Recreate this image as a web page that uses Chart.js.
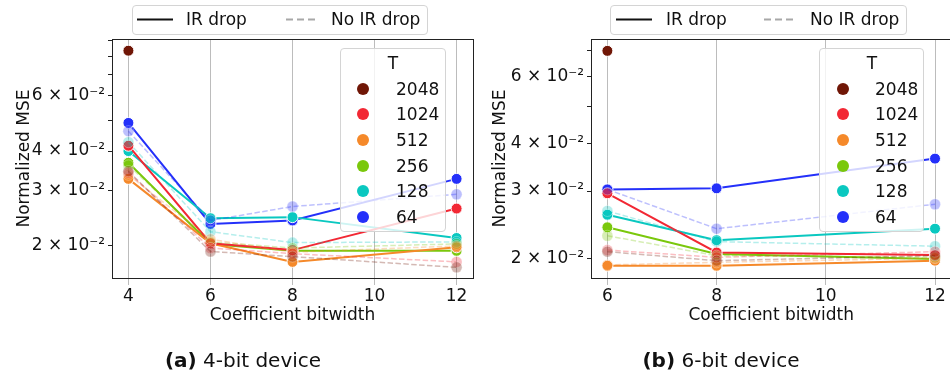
<!DOCTYPE html>
<html><head><meta charset="utf-8">
<script src="https://cdn.jsdelivr.net/npm/chart.js@4/dist/chart.umd.min.js"></script>
<style>
html,body{margin:0;padding:0;width:950px;height:381px;overflow:hidden;background:#fff;font-family:"DejaVu Sans",sans-serif;color:#111;}
.wrap{position:absolute;top:0;height:381px;}
canvas{display:block}
.box{position:absolute;background:rgba(255,255,255,0.8);border:1px solid #d4d4d4;border-radius:4px;box-sizing:border-box;z-index:5;}
.t{position:absolute;font-size:17px;line-height:20px;white-space:nowrap;z-index:6;}
.dot{position:absolute;width:12px;height:12px;border-radius:50%;z-index:6;}
.cap{position:absolute;font-size:20px;line-height:24px;white-space:nowrap;transform:translateX(-50%);}
</style></head>
<body>
<div class="wrap" style="left:0;width:475px"><canvas id="c4" width="475" height="381"></canvas></div>
<div class="wrap" style="left:475px;width:480px"><canvas id="c6" width="480" height="381"></canvas></div>
<div id="overlay"></div>
<script>
// ---- data ----
const xBits4 = [4, 6, 8, 12];
const xBits6 = [6, 8, 12];
const tLabels = ['2048', '1024', '512', '256', '128', '64'];

// 4-bit device, IR drop
const ir4_2048 = [0.0837, null, null, null];
const ir4_1024 = [0.0416, 0.0203, 0.0193, 0.0262];
const ir4_512  = [0.0326, 0.0203, 0.0177, 0.0197];
const ir4_256  = [0.0367, 0.0202, 0.0192, 0.0192];
const ir4_128  = [0.0400, 0.0244, 0.0246, 0.0211];
const ir4_64   = [0.0492, 0.0234, 0.0240, 0.0326];
// 4-bit device, no IR drop
const no4_2048 = [0.0345, 0.0191, 0.0184, 0.0170];
const no4_1024 = [0.0341, 0.0196, 0.0188, 0.0177];
const no4_512  = [0.0336, 0.0209, 0.0190, 0.0199];
const no4_256  = [0.0360, 0.0205, 0.0196, 0.0202];
const no4_128  = [0.0427, 0.0221, 0.0204, 0.0205];
const no4_64   = [0.0463, 0.0240, 0.0266, 0.0291];
// 6-bit device, IR drop
const ir6_2048 = [0.0700, null, null];
const ir6_1024 = [0.0296, 0.0207, 0.0204];
const ir6_512  = [0.0191, 0.0191, 0.0197];
const ir6_256  = [0.0241, 0.0205, 0.0199];
const ir6_128  = [0.0260, 0.0223, 0.0239];
const ir6_64   = [0.0303, 0.0305, 0.0365];
// 6-bit device, no IR drop
const no6_2048 = [0.0208, 0.0197, 0.0203];
const no6_1024 = [0.0210, 0.0201, 0.0208];
const no6_512  = [0.0192, 0.0195, 0.0200];
const no6_256  = [0.0229, 0.0203, 0.0201];
const no6_128  = [0.0266, 0.0221, 0.0215];
const no6_64   = [0.0303, 0.0239, 0.0277];

const xTicks4 = [4, 6, 8, 10, 12];
const xTicks6 = [6, 8, 10, 12];
const yTicks4 = [0.02, 0.03, 0.04, 0.05, 0.06, 0.07, 0.08, 0.09];
const yTicks6 = [0.02, 0.03, 0.04, 0.05, 0.06, 0.07];
const yLabelled = {2: '2 × 10⁻²', 3: '3 × 10⁻²', 4: '4 × 10⁻²', 6: '6 × 10⁻²'};

// ---- styles ----
const tColors = [[112,22,6],[242,40,52],[245,137,42],[122,200,12],[10,200,192],[36,48,250]];
const FONT = 'DejaVu Sans';
const rgba = (c, a) => `rgba(${c[0]},${c[1]},${c[2]},${a})`;

const framePlugin = {
  id: 'frame',
  afterDatasetsDraw(chart) {
    const {ctx, chartArea: a} = chart;
    ctx.save();
    ctx.strokeStyle = '#222';
    ctx.lineWidth = 1;
    ctx.strokeRect(Math.round(a.left) + 0.5, Math.round(a.top) + 0.5,
                   Math.round(a.right - a.left), Math.round(a.bottom - a.top));
    ctx.restore();
  }
};

function buildDatasets(xs, irList, noList) {
  const ds = [];
  noList.forEach((vals, i) => {
    ds.push({
      data: xs.map((x, j) => ({x: x, y: vals[j]})),
      borderColor: rgba(tColors[i], 0.3), backgroundColor: rgba(tColors[i], 0.3),
      pointBorderColor: 'rgba(255,255,255,0.3)', pointBorderWidth: 1,
      borderDash: [5.5, 2.4], borderWidth: 1.5, pointRadius: 5.5, tension: 0, spanGaps: false
    });
  });
  irList.forEach((vals, i) => {
    ds.push({
      data: xs.map((x, j) => ({x: x, y: vals[j]})),
      borderColor: rgba(tColors[i], 1), backgroundColor: rgba(tColors[i], 1),
      pointBorderColor: '#fff', pointBorderWidth: 1,
      borderWidth: 2, pointRadius: 5.5, tension: 0, spanGaps: false
    });
  });
  return ds;
}

function makeChart(id, xs, irList, noList, xmin, xmax, xTicks, ymin, ymax, yTicks, padRight, yWidth, yTitlePad) {
  return new Chart(document.getElementById(id), {
    type: 'line',
    data: {datasets: buildDatasets(xs, irList, noList)},
    plugins: [framePlugin],
    options: {
      responsive: false, animation: false, events: [],
      layout: {autoPadding: false, padding: {left: 0, top: 39, right: padRight, bottom: 0}},
      plugins: {legend: {display: false}, tooltip: {enabled: false}},
      scales: {
        x: {
          type: 'linear', min: xmin, max: xmax,
          afterBuildTicks: s => { s.ticks = xTicks.map(v => ({value: v})); },
          afterFit: s => { s.height = 103; s.paddingLeft = 0; s.paddingRight = 0; },
          grid: {color: '#bcbcbc', lineWidth: 1, drawTicks: true, tickLength: 7},
          border: {display: false},
          ticks: {color: '#111', font: {family: FONT, size: 17}, padding: 1, maxRotation: 0, autoSkip: false,
                  callback: v => String(v)},
          title: {display: true, text: 'Coefficient bitwidth', color: '#111', font: {family: FONT, size: 17},
                  padding: {top: 0, bottom: 55}}
        },
        y: {
          type: 'logarithmic', min: ymin, max: ymax,
          afterBuildTicks: s => { s.ticks = yTicks.map(v => ({value: v})); },
          afterFit: s => { s.width = yWidth; s.paddingTop = 0; s.paddingBottom = 0; },
          grid: {drawOnChartArea: false, drawTicks: true, tickLength: 4, color: '#222', lineWidth: 1},
          border: {display: false},
          ticks: {color: '#111', font: {family: FONT, size: 17}, padding: 3, autoSkip: false,
                  callback: v => yLabelled[Math.round(v * 100)] || ''},
          title: {display: true, text: 'Normalized MSE', color: '#111', font: {family: FONT, size: 17},
                  padding: {top: yTitlePad, bottom: 0}}
        }
      }
    }
  });
}

makeChart('c4', xBits4,
  [ir4_2048, ir4_1024, ir4_512, ir4_256, ir4_128, ir4_64],
  [no4_2048, no4_1024, no4_512, no4_256, no4_128, no4_64],
  3.6, 12.4, xTicks4, 0.01572, 0.09122, yTicks4, 2, 112, 14);
makeChart('c6', xBits6,
  [ir6_2048, ir6_1024, ir6_512, ir6_256, ir6_128, ir6_64],
  [no6_2048, no6_1024, no6_512, no6_256, no6_128, no6_64],
  5.7, 12.3, xTicks6, 0.01774, 0.0752, yTicks6, 3.6, 116, 15);

// ---- legends & captions (HTML text) ----
const ov = document.getElementById('overlay');
function add(html) { ov.insertAdjacentHTML('beforeend', html); }

function topLegend(bx, bw, solidX, solidTx, dashX, dashTx) {
  add(`<div class="box" style="left:${bx}px;top:5px;width:${bw}px;height:30px"></div>`);
  add(`<svg style="position:absolute;left:0;top:0;z-index:6" width="950" height="40">
        <line x1="${solidX}" y1="19.5" x2="${solidX + 36}" y2="19.5" stroke="#111" stroke-width="2"/>
        <line x1="${dashX}" y1="19.5" x2="${dashX + 29}" y2="19.5" stroke="#a8a8a8" stroke-width="2" stroke-dasharray="7,4"/>
      </svg>`);
  add(`<div class="t" style="left:${solidTx}px;top:9px">IR drop</div>`);
  add(`<div class="t" style="left:${dashTx}px;top:9px">No IR drop</div>`);
}
topLegend(132, 296, 137, 186, 286, 331);
topLegend(610, 297, 616, 666, 764, 810);

function tLegend(bx, bw, dotX, txtX, titleX) {
  add(`<div class="box" style="left:${bx}px;top:48px;width:${bw}px;height:184px"></div>`);
  add(`<div class="t" style="left:${titleX - 20}px;width:40px;text-align:center;top:53px">T</div>`);
  tLabels.forEach((lab, i) => {
    const y = 88.7 + i * 25.6;
    add(`<div class="dot" style="left:${dotX - 6}px;top:${y - 6}px;background:${rgba(tColors[i], 1)}"></div>`);
    add(`<div class="t" style="left:${txtX}px;top:${y - 10}px">${lab}</div>`);
  });
}
tLegend(340, 106, 362.7, 396, 393);
tLegend(819, 105, 842.7, 875, 872);

add(`<div class="cap" style="left:243px;top:348px"><b>(a)</b> 4-bit device</div>`);
add(`<div class="cap" style="left:721px;top:348px"><b>(b)</b> 6-bit device</div>`);
</script>
</body></html>
